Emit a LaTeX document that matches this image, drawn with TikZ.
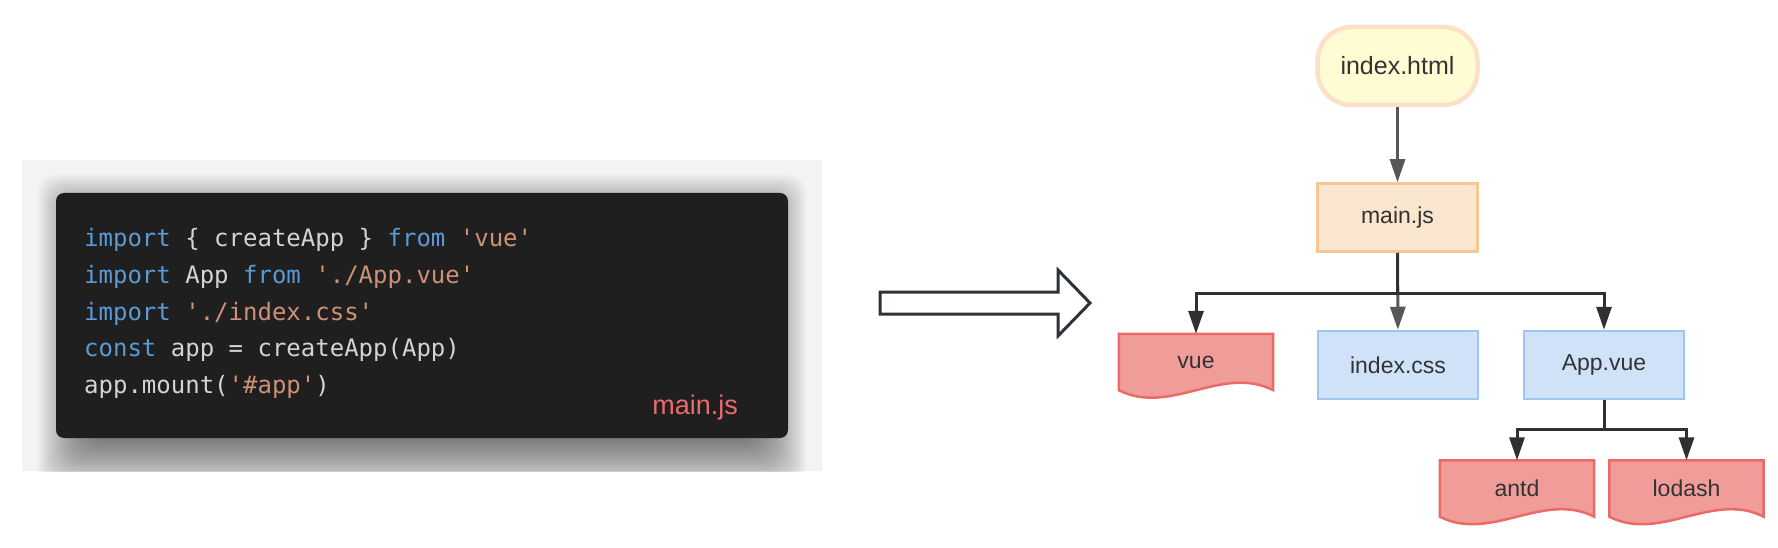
\documentclass[tikz,border=0pt]{standalone}
\usepackage{fontspec}
\setmainfont{Liberation Sans}
\setmonofont{DejaVu Sans Mono}
\usetikzlibrary{arrows.meta,backgrounds}
\definecolor{kwblue}{HTML}{5A9BD5}
\definecolor{strorange}{HTML}{CE9178}
\definecolor{codetext}{HTML}{D4D4D4}
\definecolor{codebg}{HTML}{1F1F1F}
\definecolor{shadebg}{HTML}{F3F3F3}
\definecolor{jsred}{HTML}{EC6B6B}
\definecolor{htmlfill}{HTML}{FFFCD3}
\definecolor{htmlline}{HTML}{FAE1C8}
\definecolor{jsfill}{HTML}{FAE6CF}
\definecolor{jsline}{HTML}{F5C794}
\definecolor{cssfill}{HTML}{CFE2F8}
\definecolor{cssline}{HTML}{9DC6F2}
\definecolor{pkgfill}{HTML}{F09D9A}
\definecolor{pkgline}{HTML}{EA6B66}
\definecolor{linkgray}{HTML}{575757}
\definecolor{linkdark}{HTML}{303030}
\definecolor{labeltext}{HTML}{333333}
\definecolor{bigarrow}{HTML}{2D3238}
\newcommand\kwtok[1]{\textcolor{kwblue}{#1}}
\newcommand\strtok[1]{\textcolor{strorange}{#1}}
\newcommand\docshape[1]{%
  \begin{scope}[on background layer]
  \filldraw[docline] (#1.north west) -- (#1.north east) -- (#1.south east)
    .. controls +(-51,-26) and +(51,26) .. (#1.south west) -- cycle;
  \end{scope}}
\tikzset{
  codeline/.style={anchor=base west, inner sep=0pt, text=codetext, font=\ttfamily\fontsize{24}{29}\selectfont},
  filebox/.style={rectangle, minimum width=160, minimum height=68, line width=2.5, text=labeltext, font=\fontsize{23}{27}\selectfont},
  docnode/.style={rectangle, minimum width=154, minimum height=56, text=labeltext, font=\fontsize{23}{27}\selectfont},
  docline/.style={fill=pkgfill, draw=pkgline, line width=2.5},
  graylink/.style={draw=linkgray, line width=3, -{Triangle[width=15pt,length=23pt]}},
  darklink/.style={draw=linkdark, line width=3, -{Triangle[width=15pt,length=23pt]}}
}
\begin{document}
\begin{tikzpicture}[x=1pt,y=-1pt]
\useasboundingbox (0,0) rectangle (1778,548);
\fill[shadebg] (22,160) rectangle (822,471);
\begin{scope}
\clip (22,160) rectangle (822,471);
\foreach \s in {1,...,25}
  \fill[black, opacity=0.0216, rounded corners=20] ({89-2.06*\s},{226-2.06*\s}) rectangle ({755+2.06*\s},{438+2.06*\s});
\end{scope}
\fill[codebg, rounded corners=8] (56,193) rectangle (788,438);
\node[codeline] (cl0) at (84,247){\kwtok{import} \{ createApp \} \kwtok{from} \strtok{'vue'}};
\node[codeline] (cl1) at (84,283.5){\kwtok{import} App \kwtok{from} \strtok{'./App.vue'}};
\node[codeline] (cl2) at (84,320){\kwtok{import} \strtok{'./index.css'}};
\node[codeline] (cl3) at (84,356.5){\kwtok{const} app = createApp(App)};
\node[codeline] (cl4) at (84,393){app.mount(\strtok{'\#app'})};
\node[anchor=base east, inner sep=0pt, text=jsred, font=\fontsize{27}{32}\selectfont] (jsname) at (738,414){main.js};
\filldraw[fill=white, draw=bigarrow, line width=3, line join=miter] (880,292) -- (1058,292) -- (1058,270) -- (1090,303) -- (1058,336) -- (1058,314) -- (880,314) -- cycle;
\node[filebox, rounded corners=34, minimum height=78, fill=htmlfill, draw=htmlline, line width=4.5, font=\fontsize{25}{30}\selectfont] (fid0) at (1397.5,66){index.html};
\node[filebox, fill=jsfill, draw=jsline] (fid1) at (1397.5,217.5){main.js};
\node[docnode] (fid2) at (1196,362){vue};
\docshape{fid2}
\node[filebox, fill=cssfill, draw=cssline] (fid3) at (1398,365){index.css};
\node[filebox, fill=cssfill, draw=cssline] (fid4) at (1604,365){App.vue};
\node[docnode] (fid5) at (1517,488.5){antd};
\docshape{fid5}
\node[docnode] (fid6) at (1686.5,488.5){lodash};
\docshape{fid6}
\coordinate (jn0) at (1397.5,293);
\coordinate (jn1) at (1604,429);
\draw[graylink] (fid0) -- (fid1);
\draw[graylink] (fid1) -- (fid3);
\draw[darklink] (fid1.south) -- (jn0) -| (fid2.north);
\draw[darklink] (fid1.south) -- (jn0) -| (fid4.north);
\draw[darklink] (fid4.south) -- (jn1) -| (fid5.north);
\draw[darklink] (fid4.south) -- (jn1) -| (fid6.north);
\end{tikzpicture}
\end{document}
